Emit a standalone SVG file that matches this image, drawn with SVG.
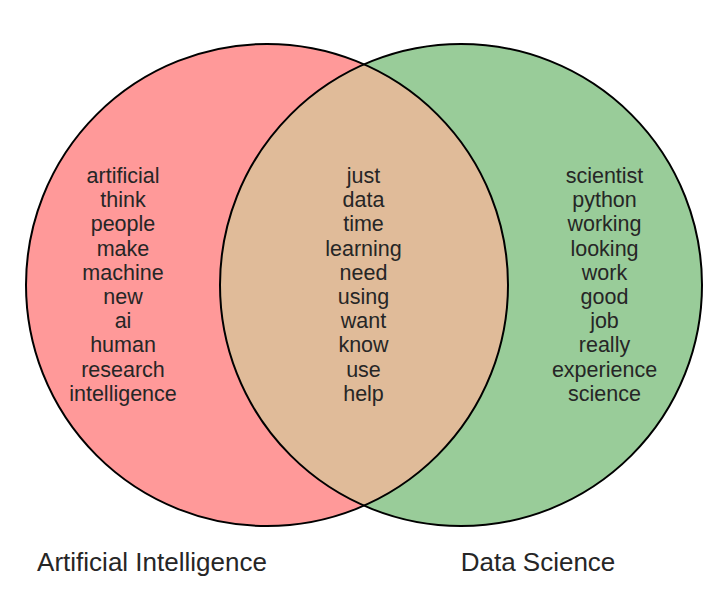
<svg xmlns="http://www.w3.org/2000/svg" width="723" height="592" viewBox="0 0 723 592">
  <style>
    .set { stroke: none; }
    .outline { fill: none; stroke: #000; stroke-width: 2; }
    .word { font-family: "Liberation Sans", Arial, sans-serif; font-size: 21.5px; fill: #262626; text-anchor: middle; }
    .label { font-family: "Liberation Sans", Arial, sans-serif; font-size: 26px; fill: #262626; text-anchor: middle; }
  </style>
  <defs>
    <clipPath id="clipLeft"><circle cx="267" cy="285" r="241"/></clipPath>
  </defs>
  <rect width="723" height="592" fill="#ffffff"/>

  <!-- set regions -->
  <g id="region-ai">
    <circle class="set" cx="267" cy="285" r="241" fill="#ff9999"/>
  </g>
  <g id="region-ds">
    <circle class="set" cx="461" cy="285" r="241" fill="#99cc99"/>
  </g>
  <g id="region-both">
    <circle class="set" cx="461" cy="285" r="241" fill="#e0bb99" clip-path="url(#clipLeft)"/>
  </g>

  <!-- circle outlines -->
  <g id="outlines">
    <circle class="outline" cx="267" cy="285" r="241"/>
    <circle class="outline" cx="461" cy="285" r="241"/>
  </g>

  <!-- words only in Artificial Intelligence -->
  <g id="words-ai" class="word">
    <text x="123" y="183">artificial</text>
    <text x="123" y="207.2">think</text>
    <text x="123" y="231.4">people</text>
    <text x="123" y="255.6">make</text>
    <text x="123" y="279.8">machine</text>
    <text x="123" y="304">new</text>
    <text x="123" y="328.2">ai</text>
    <text x="123" y="352.4">human</text>
    <text x="123" y="376.6">research</text>
    <text x="123" y="400.8">intelligence</text>
  </g>

  <!-- shared words -->
  <g id="words-both" class="word">
    <text x="363.5" y="183">just</text>
    <text x="363.5" y="207.2">data</text>
    <text x="363.5" y="231.4">time</text>
    <text x="363.5" y="255.6">learning</text>
    <text x="363.5" y="279.8">need</text>
    <text x="363.5" y="304">using</text>
    <text x="363.5" y="328.2">want</text>
    <text x="363.5" y="352.4">know</text>
    <text x="363.5" y="376.6">use</text>
    <text x="363.5" y="400.8">help</text>
  </g>

  <!-- words only in Data Science -->
  <g id="words-ds" class="word">
    <text x="604.5" y="183">scientist</text>
    <text x="604.5" y="207.2">python</text>
    <text x="604.5" y="231.4">working</text>
    <text x="604.5" y="255.6">looking</text>
    <text x="604.5" y="279.8">work</text>
    <text x="604.5" y="304">good</text>
    <text x="604.5" y="328.2">job</text>
    <text x="604.5" y="352.4">really</text>
    <text x="604.5" y="376.6">experience</text>
    <text x="604.5" y="400.8">science</text>
  </g>

  <!-- set labels -->
  <g id="labels" class="label">
    <text x="152" y="571">Artificial Intelligence</text>
    <text x="538" y="571">Data Science</text>
  </g>
</svg>
